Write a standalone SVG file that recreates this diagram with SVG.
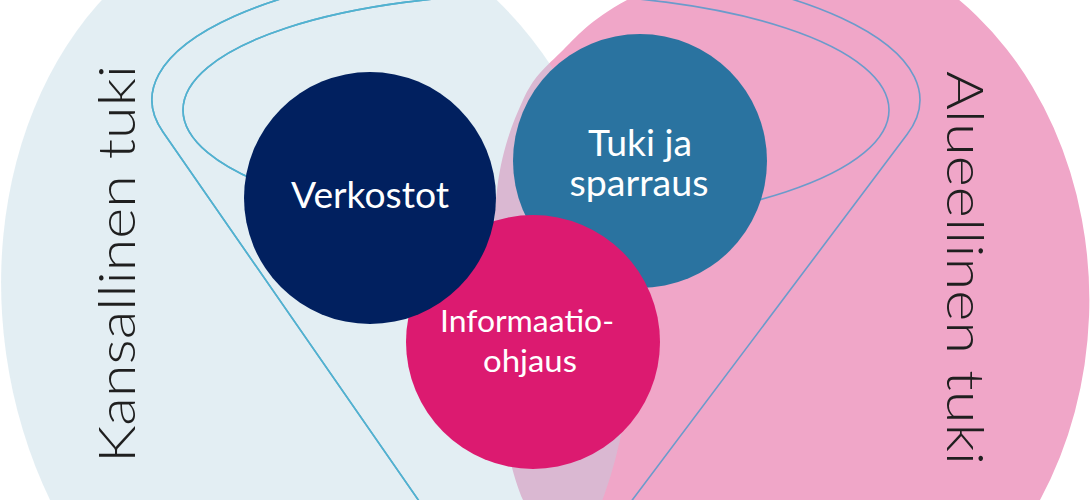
<svg xmlns="http://www.w3.org/2000/svg" width="1090" height="500" viewBox="0 0 1090 500">
  <style>
    .funnel { fill: none; stroke-width: 1.6; }
    .inner { font-family: Lato, "Open Sans", "DejaVu Sans", sans-serif; fill: #ffffff; text-anchor: middle; }
    .side { font-family: Lato, "Open Sans", "DejaVu Sans", sans-serif; font-weight: 300; font-size: 52px; fill: #1f1f1f; }
  </style>
  <defs>
    <clipPath id="leftClip">
      <ellipse cx="316" cy="310" rx="313" ry="400" transform="rotate(-8 316 310)"/>
    </clipPath>
    <g id="funnelShape">
      <path d="M163,132 A384,135 0 1 1 907,134.5 L521,648 Z"/>
      <ellipse cx="536" cy="110" rx="353" ry="116"/>
    </g>
  </defs>
  <rect width="1090" height="500" fill="#ffffff"/>

  <g id="background">
    <path id="regional" fill="#f0a6c8" d="M790,-64 A300,364 0 0 1 1040,500 L1040,560 L540,560 L523,500 C513,478 497,420 495,340 C490.7,288.3 492.3,230 497,190 C501.7,150 512.5,122.8 523,100 C533.5,77.2 542.7,69.7 560,53 C577.3,36.3 588.7,20.8 627,0 C665.3,-20.8 735.3,-64 790,-64 Z"/>
    <ellipse id="national" cx="316" cy="310" rx="313" ry="400" transform="rotate(-8 316 310)" fill="rgb(185,212,225)" fill-opacity="0.4"/>
  </g>

  <g id="connectors">
    <use href="#funnelShape" class="funnel" stroke="#6b9bcb"/>
    <use href="#funnelShape" class="funnel" stroke="#4fb4d0" clip-path="url(#leftClip)"/>
  </g>

  <g id="node-tuki">
    <circle cx="640" cy="161" r="127" fill="#2a73a0"/>
    <text class="inner" x="640" y="156" font-size="36" textLength="104" lengthAdjust="spacingAndGlyphs">Tuki ja</text>
    <text class="inner" x="639" y="196" font-size="36" textLength="139" lengthAdjust="spacingAndGlyphs">sparraus</text>
  </g>

  <g id="node-informaatio">
    <circle cx="533" cy="342" r="127" fill="#dc1a70"/>
    <text class="inner" x="527" y="332" font-size="30" textLength="174" lengthAdjust="spacingAndGlyphs">Informaatio-</text>
    <text class="inner" x="530" y="372" font-size="30" textLength="94" lengthAdjust="spacingAndGlyphs">ohjaus</text>
  </g>

  <g id="node-verkostot">
    <circle cx="370" cy="198" r="126" fill="#01205f"/>
    <text class="inner" x="370" y="208" font-size="36" textLength="158" lengthAdjust="spacingAndGlyphs">Verkostot</text>
  </g>

  <g id="label-kansallinen">
    <text class="side" transform="translate(135,463) rotate(-90)" x="0" y="0" textLength="398" lengthAdjust="spacingAndGlyphs">Kansallinen tuki</text>
  </g>
  <g id="label-alueellinen">
    <text class="side" transform="translate(947,71) rotate(90)" x="0" y="0" textLength="394" lengthAdjust="spacingAndGlyphs">Alueellinen tuki</text>
  </g>
</svg>
